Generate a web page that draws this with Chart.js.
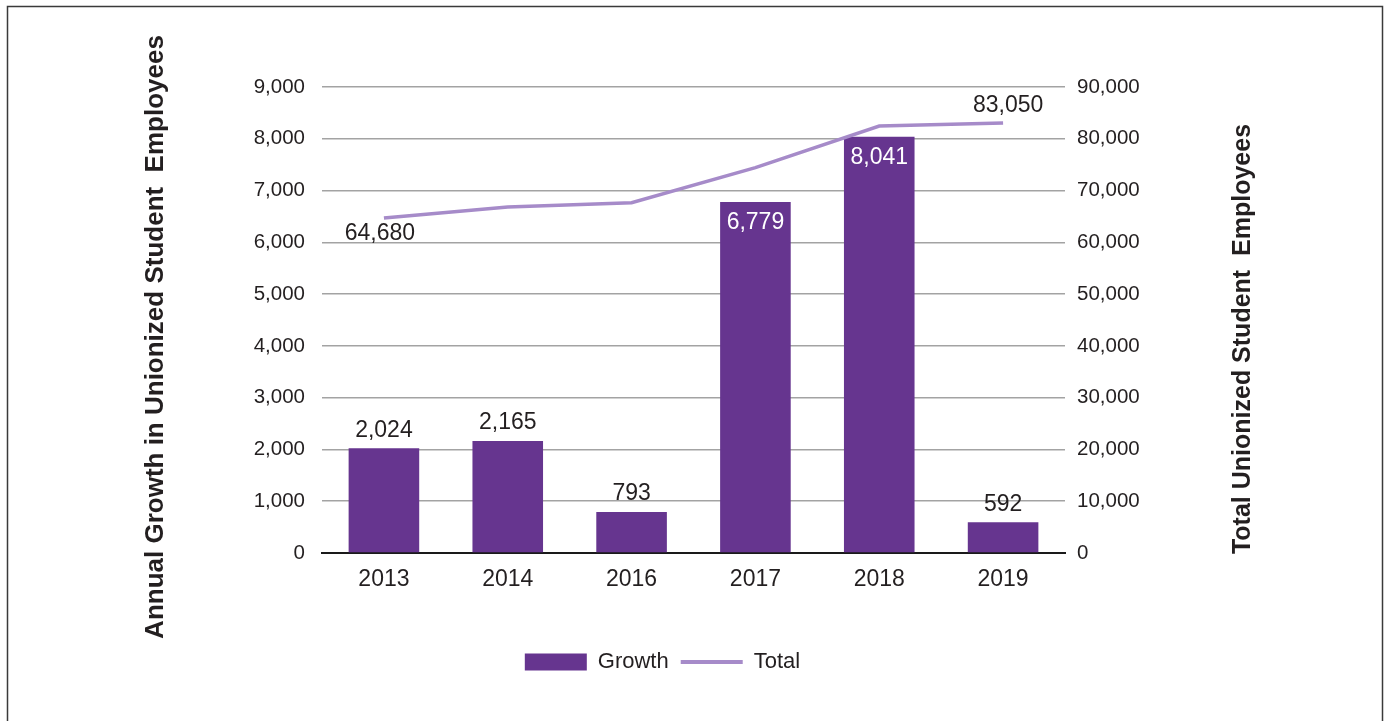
<!DOCTYPE html>
<html>
<head>
<meta charset="utf-8">
<script src="https://cdn.jsdelivr.net/npm/chart.js@4"></script>
<style>
  html, body { margin: 0; padding: 0; background: #fff; overflow: hidden; }
  #wrap { position: relative; width: 1385px; height: 721px; }
</style>
</head>
<body>
<div id="wrap"><canvas id="unionChart"></canvas></div>
<script>
const years = ['2013', '2014', '2016', '2017', '2018', '2019'];
const growth = [2024, 2165, 793, 6779, 8041, 592];
const total = [64680, 66845, 67638, 74417, 82458, 83050];
const totalLabelled = [0, 5]; // only first and last totals get a label

const BAR = '#66358f';
const LINE = '#a68bc9';
const INK = '#231f20';
const FONT = "'Liberation Sans', Arial, Helvetica, sans-serif";

Chart.defaults.font.family = FONT;
Chart.defaults.color = INK;

const fmt = v => Number(v).toLocaleString('en-US');

// frame around the whole figure
const framePlugin = {
  id: 'frame',
  beforeDraw(chart) {
    const ctx = chart.ctx;
    ctx.save();
    ctx.fillStyle = '#fff';
    ctx.fillRect(0, 0, chart.width, chart.height);
    ctx.strokeStyle = '#3a3a3a';
    ctx.lineWidth = 1.5;
    ctx.strokeRect(7.5, 6.5, 1375, 740);
    ctx.restore();
  }
};

// rotated titles for both value axes
const axisTitles = {
  id: 'axisTitles',
  afterDraw(chart) {
    const ctx = chart.ctx;
    const draw = (text, x, y, size) => {
      ctx.save();
      ctx.translate(x, y);
      ctx.rotate(-Math.PI / 2);
      ctx.font = 'bold ' + size + 'px ' + FONT;
      ctx.fillStyle = INK;
      ctx.textAlign = 'center';
      ctx.textBaseline = 'alphabetic';
      ctx.fillText(text, 0, 0);
      ctx.restore();
    };
    draw('Annual Growth in Unionized Student  Employees', 163, 337, 26);
    draw('Total Unionized Student  Employees', 1250, 339, 25);
  }
};

// value labels on bars and on the ends of the total line
const valueLabels = {
  id: 'valueLabels',
  afterDatasetsDraw(chart) {
    const ctx = chart.ctx;
    ctx.save();
    ctx.font = '23px ' + FONT;
    ctx.textAlign = 'center';
    ctx.textBaseline = 'middle';

    chart.getDatasetMeta(0).data.forEach((bar, i) => {
      const v = growth[i];
      if (v > 6000) {
        ctx.fillStyle = '#fff';
        ctx.fillText(fmt(v), bar.x, bar.y + 21);
      } else {
        ctx.fillStyle = INK;
        ctx.fillText(fmt(v), bar.x, bar.y - 18);
      }
    });

    const pts = chart.getDatasetMeta(1).data;
    ctx.fillStyle = INK;
    totalLabelled.forEach(i => {
      const p = pts[i];
      const dy = i === 0 ? 16 : -17;
      ctx.fillText(fmt(total[i]), p.x + (i === 0 ? -4 : 5), p.y + dy);
    });
    ctx.restore();
  }
};

new Chart(document.getElementById('unionChart'), {
  type: 'bar',
  data: {
    labels: years,
    datasets: [
      {
        label: 'Growth',
        data: growth,
        backgroundColor: BAR,
        borderWidth: 0,
        yAxisID: 'y',
        order: 1,
        barPercentage: 0.57,
        categoryPercentage: 1
      },
      {
        type: 'line',
        label: 'Total',
        data: total,
        borderColor: LINE,
        backgroundColor: LINE,
        borderWidth: 3.5,
        pointRadius: 0,
        tension: 0,
        yAxisID: 'y1',
        order: 0
      }
    ]
  },
  options: {
    responsive: true,
    maintainAspectRatio: false,
    animation: false,
    // extra right padding pulls the centred legend a little to the left
    layout: { padding: { top: 87, bottom: 38, left: 0, right: 60 } },
    scales: {
      x: {
        grid: { display: false, drawTicks: false },
        border: { color: '#1a1a1a', width: 2 },
        ticks: { padding: 13, font: { size: 23 }, color: INK },
        afterFit(scale) { scale.height = 86; }
      },
      y: {
        position: 'left',
        min: 0,
        max: 9000,
        ticks: { stepSize: 1000, padding: 17, font: { size: 20.5 }, color: INK, callback: v => fmt(v) },
        grid: { color: '#a3a3a3', lineWidth: 1.5, drawTicks: false },
        border: { display: false },
        afterFit(scale) { scale.width = 322; }
      },
      y1: {
        position: 'right',
        min: 0,
        max: 90000,
        ticks: { stepSize: 10000, padding: 12, font: { size: 20.5 }, color: INK, callback: v => fmt(v) },
        grid: { display: false, drawTicks: false },
        border: { display: false },
        afterFit(scale) { scale.width = 260; }
      }
    },
    plugins: {
      tooltip: { enabled: false },
      legend: {
        position: 'bottom',
        labels: {
          usePointStyle: true,
          pointStyleWidth: 62,
          boxHeight: 17,
          padding: 12,
          color: INK,
          font: { size: 22 },
          generateLabels(chart) {
            const items = Chart.defaults.plugins.legend.labels.generateLabels(chart);
            items.sort((a, b) => a.datasetIndex - b.datasetIndex);
            items.forEach(it => {
              if (it.datasetIndex === 0) {
                it.pointStyle = 'rect';
                it.lineWidth = 0;
              } else {
                it.pointStyle = 'line';
                it.lineWidth = 4;
                it.strokeStyle = LINE;
              }
            });
            return items;
          }
        }
      }
    }
  },
  plugins: [framePlugin, axisTitles, valueLabels]
});
</script>
</body>
</html>
